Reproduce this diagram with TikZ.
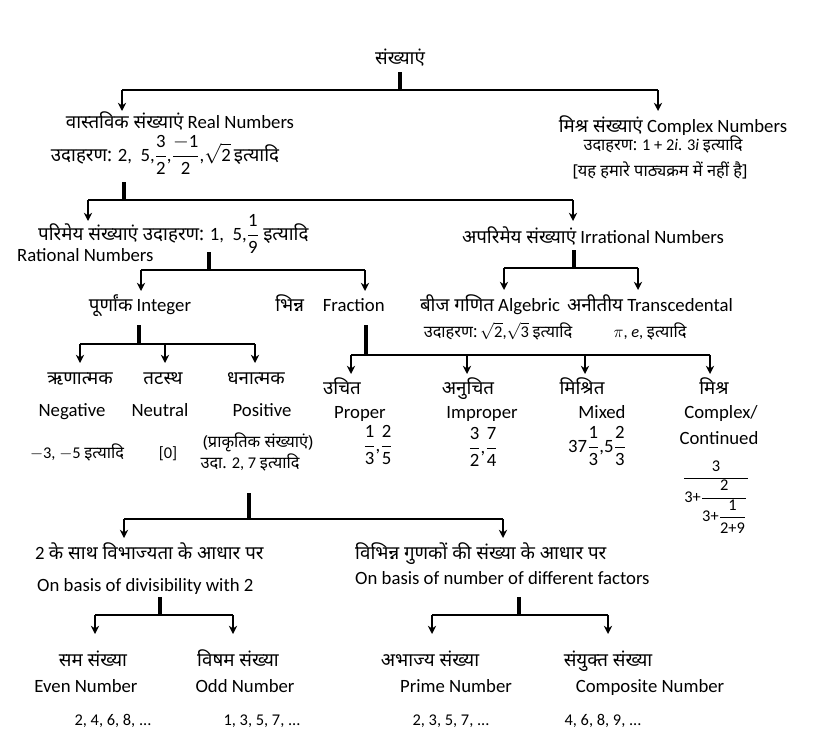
\documentclass[tikz,border=0pt]{standalone}
\usepackage{fontspec}
\setmainfont{Carlito}
\newfontfamily\dv[Script=Devanagari]{Noto Sans}
\usetikzlibrary{arrows.meta}
\newcommand\fr[2]{$\displaystyle\frac{\mbox{#1}}{\mbox{#2}}$}
\begin{document}
\begin{tikzpicture}[x=0.03cm,y=-0.03cm,
  t/.style={inner sep=0pt,anchor=base,font=\fontsize{16}{18}\selectfont},
  s/.style={font=\fontsize{14}{16}\selectfont},
  stub/.style={line width=2.6pt},
  bar/.style={line width=1.6pt},
  arr/.style={line width=1.6pt,-{Stealth[length=7pt,width=7pt]}}]
\useasboundingbox (0,0) rectangle (819,755);
% level 0
\node[t] (root) at (400,64) {\dv संख्याएं};
\coordinate (r0) at (400,72);\coordinate (r1) at (400,90);
\draw[stub] (r0)--(r1);
\coordinate (rl) at (122,90);\coordinate (rr) at (658,90);
\draw[bar] (rl)--(rr);
\coordinate (rla) at (122,111);\coordinate (rra) at (658,111);
\draw[arr] (rl)--(rla);\draw[arr] (rr)--(rra);
\node[t] (real) at (180,128) {{\dv वास्तविक संख्याएं} Real Numbers};
\node[t] (realex) at (165,161) {{\dv उदाहरण:} 2, \ 5,\fr{3}{2},\fr{$-$1}{2},$\sqrt{\mbox{2}}$\,{\dv इत्यादि}};
\node[t] (cplx) at (673,132) {{\dv मिश्र संख्याएं} Complex Numbers};
\node[t,s] (cplxex) at (663,150) {{\dv उदाहरण:} 1 + 2\textit{i}. 3\textit{i} {\dv इत्यादि}};
\node[t,s] (cplxno) at (660,176) {\dv [यह हमारे पाठ्यक्रम में नहीं है]};
% level real
\coordinate (a0) at (124,182);\coordinate (a1) at (124,200);
\draw[stub] (a0)--(a1);
\coordinate (al) at (88,200);\coordinate (ar) at (573,200);
\draw[bar] (al)--(ar);
\draw[arr] (al)--(88,221);\draw[arr] (ar)--(573,221);
\node[t,anchor=base west] (rat) at (38,240) {{\dv परिमेय संख्याएं उदाहरण:} 1, \ 5,\fr{1}{9} {\dv इत्यादि}};
\node[t,anchor=base west] (ratn) at (17,261) {Rational Numbers};
\node[t] (irr) at (593,243) {{\dv अपरिमेय संख्याएं} Irrational Numbers};
% rational
\draw[stub] (209,252)--(209,270);
\draw[bar] (141,270)--(365,270);
\draw[arr] (141,270)--(141,291);\draw[arr] (365,270)--(365,291);
\node[t] (int) at (140,311) {{\dv पूर्णांक} Integer};
\node[t] (frac) at (330,311) {{\dv भिन्न}\quad Fraction};
% irrational
\draw[stub] (574,250)--(574,268);
\draw[bar] (504,268)--(638,268);
\draw[arr] (504,268)--(504,290);\draw[arr] (638,268)--(638,290);
\node[t] (alg) at (490,311) {{\dv बीज गणित} Algebric};
\node[t] (tra) at (650,311) {{\dv अनीतीय} Transcedental};
\node[t,s] (algex) at (498,337) {{\dv उदाहरण:}\,$\sqrt{\mbox{2}}$,$\sqrt{\mbox{3}}$ {\dv इत्यादि}};
\node[t,s] (traex) at (650,337) {$\pi$, \textit{e}, {\dv इत्यादि}};
% integer
\draw[stub] (139,325)--(139,344);
\draw[bar] (80,344)--(255,344);
\foreach \x in {80,165,255} \draw[arr] (\x,344)--(\x,363);
\node[t] (neg) at (80,384) {\dv ऋणात्मक};
\node[t] (neu) at (163,384) {\dv तटस्थ};
\node[t] (pos) at (256,384) {\dv धनात्मक};
\node[t] (negE) at (72,416) {Negative};
\node[t] (neuE) at (160,416) {Neutral};
\node[t] (posE) at (262,416) {Positive};
\node[t,s] (negx) at (77,458) {$-$3, $-$5 {\dv इत्यादि}};
\node[t,s] (neux) at (168,458) {[0]};
\node[t,s] (posx) at (258,447) {\dv (प्राकृतिक संख्याएं)};
\node[t,s] (posy) at (250,468) {{\dv उदा.} 2, 7 {\dv इत्यादि}};
% fraction
\draw[stub] (366,325)--(366,355);
\draw[bar] (351,355)--(710,355);
\foreach \x in {351,467,585,710} \draw[arr] (\x,355)--(\x,374);
\node[t] (p1) at (342,394) {\dv उचित};
\node[t] (p2) at (360,418) {Proper};
\node[t] (p3) at (378,451) {\fr{1}{3},\fr{2}{5}};
\node[t] (i1) at (468,394) {\dv अनुचित};
\node[t] (i2) at (482,418) {Improper};
\node[t] (i3) at (483,453) {\fr{3}{2},\fr{7}{4}};
\node[t] (m1) at (582,394) {\dv मिश्रित};
\node[t] (m2) at (602,418) {Mixed};
\node[t] (m3) at (597,452) {37\fr{1}{3},5\fr{2}{3}};
\node[t] (c1) at (714,394) {\dv मिश्र};
\node[t] (c2) at (721,418) {Complex/};
\node[t] (c3) at (719,444) {Continued};
\node[t,s,anchor=center] (c4) at (716,497) {$\displaystyle\frac{\mbox{3}}{\mbox{3+}\displaystyle\frac{\mbox{2}}{\mbox{3+}\displaystyle\frac{\mbox{1}}{\mbox{2+9}}}}$};
% positive
\draw[stub] (249,493)--(249,519);
\draw[bar] (124,519)--(503,519);
\draw[arr] (124,519)--(124,538);\draw[arr] (503,519)--(503,538);
\node[t,anchor=base west] (d1) at (35,559) {2 {\dv के साथ विभाज्यता के आधार पर}};
\node[t,anchor=base west] (d2) at (37,591) {On basis of divisibility with 2};
\node[t,anchor=base west] (f1) at (355,559) {\dv विभिन्न गुणकों की संख्या के आधार पर};
\node[t,anchor=base west] (f2) at (355,584) {On basis of number of different factors};
% divisibility
\draw[stub] (160,597)--(160,615);
\draw[bar] (95,615)--(233,615);
\draw[arr] (95,615)--(95,634);\draw[arr] (233,615)--(233,634);
\node[t] (e1) at (93,666) {\dv सम संख्या};
\node[t] (o1) at (238,666) {\dv विषम संख्या};
\node[t] (e2) at (86,692) {Even Number};
\node[t] (o2) at (245,692) {Odd Number};
\node[t,s] (e3) at (113,725) {2, 4, 6, 8, ...};
\node[t,s] (o3) at (262,725) {1, 3, 5, 7, ...};
% factors
\draw[stub] (519,597)--(519,615);
\draw[bar] (432,615)--(608,615);
\draw[arr] (432,615)--(432,634);\draw[arr] (608,615)--(608,634);
\node[t] (pr1) at (430,666) {\dv अभाज्य संख्या};
\node[t] (co1) at (608,666) {\dv संयुक्त संख्या};
\node[t] (pr2) at (456,692) {Prime Number};
\node[t] (co2) at (650,692) {Composite Number};
\node[t,s] (pr3) at (451,725) {2, 3, 5, 7, ...};
\node[t,s] (co3) at (603,725) {4, 6, 8, 9, ...};
\end{tikzpicture}
\end{document}
